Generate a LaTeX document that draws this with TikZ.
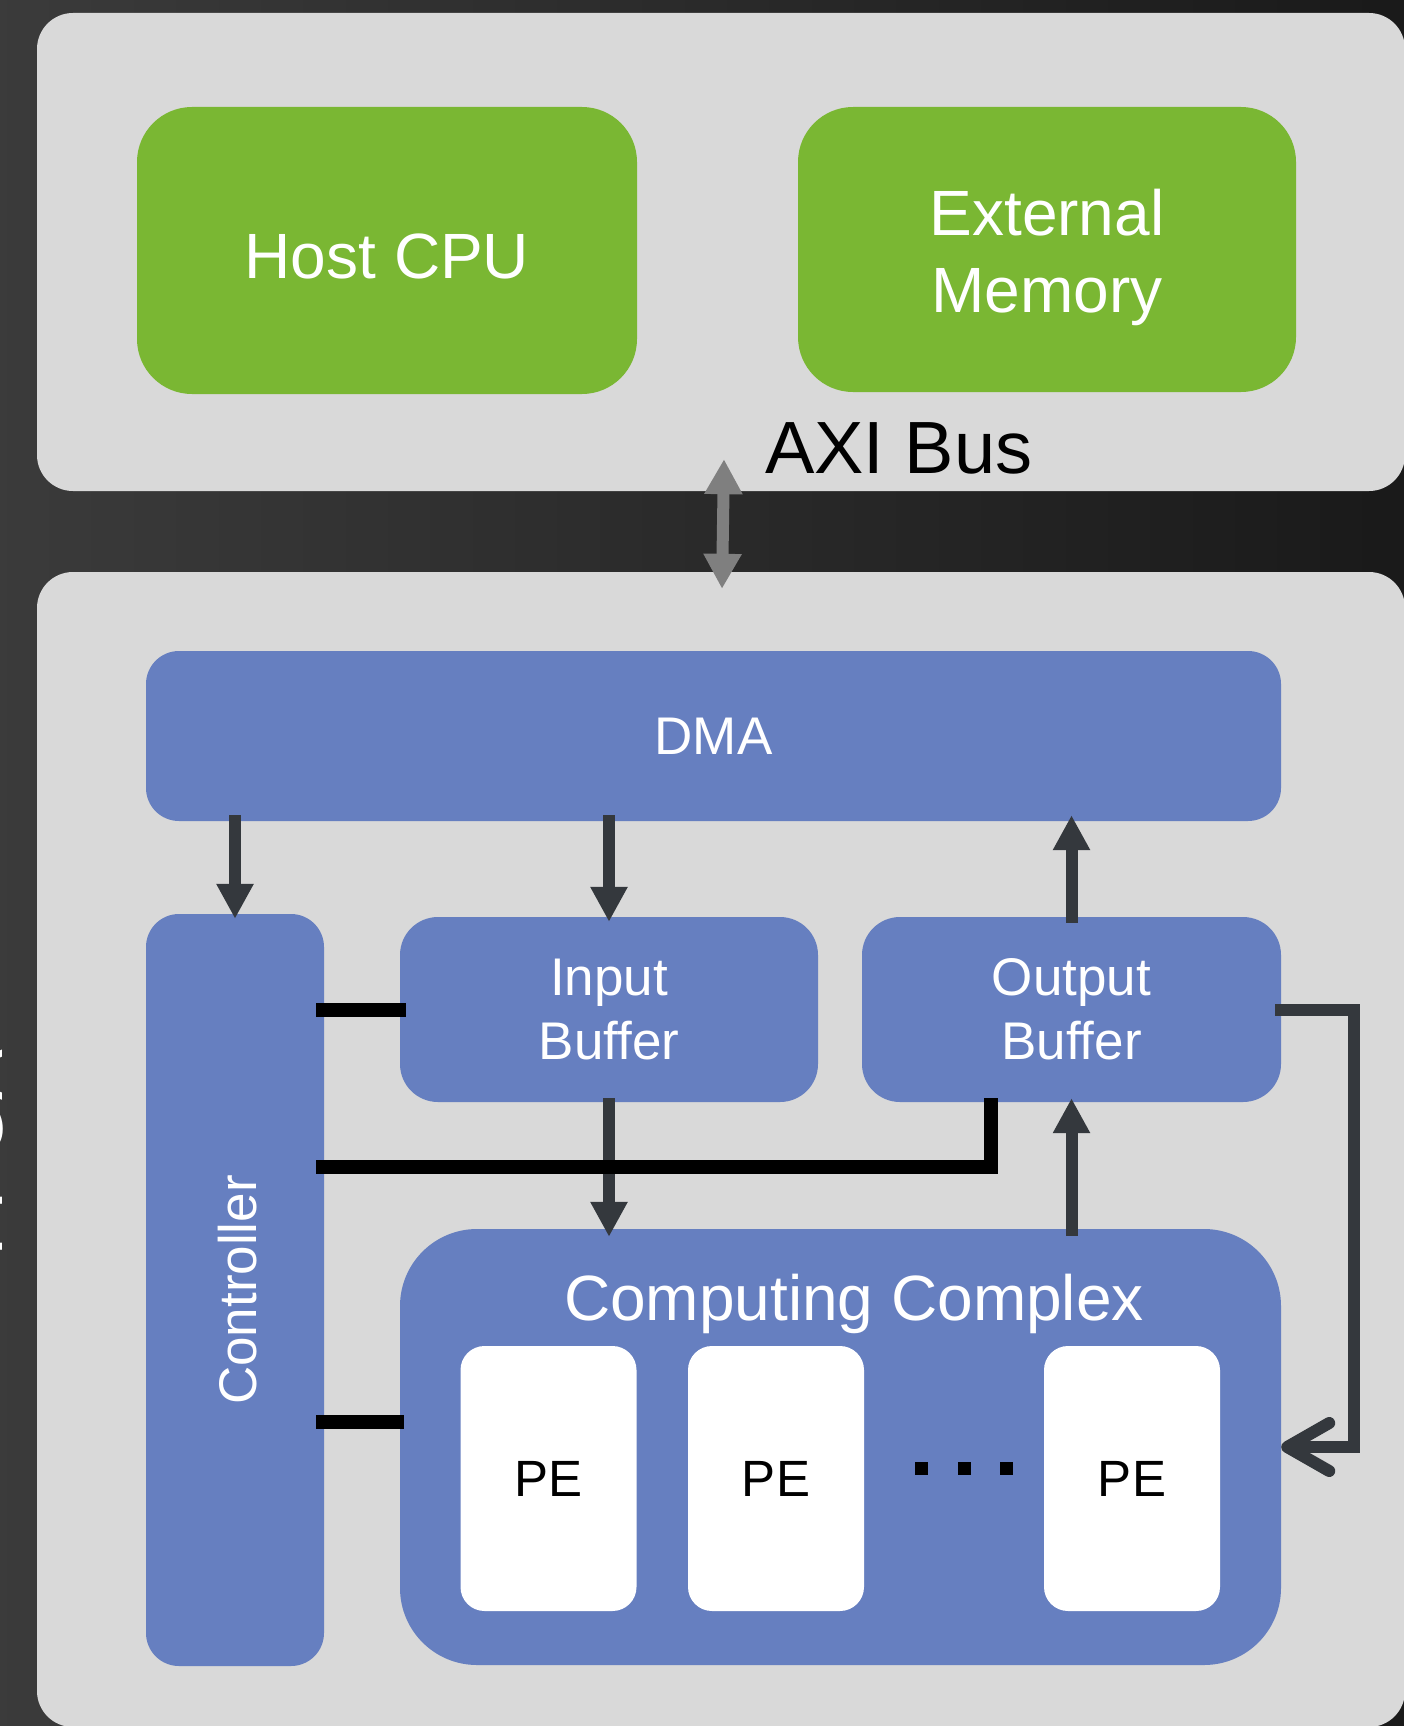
\documentclass[tikz,border=0pt]{standalone}
\usepackage{fontspec}
\setmainfont{Liberation Sans}
\usetikzlibrary{arrows.meta,calc}

\definecolor{panelgray}{HTML}{D9D9D9}
\definecolor{leafgreen}{HTML}{7AB733}
\definecolor{steelblue}{HTML}{667FC0}
\definecolor{slate}{HTML}{34383D}
\definecolor{busgray}{HTML}{7F7F7F}

\begin{document}
\begin{tikzpicture}[x=1pt,y=-1pt,
  panel/.style={fill=panelgray, rounded corners=36pt, inner sep=0pt},
  greenbox/.style={fill=leafgreen, rounded corners=55pt, inner sep=0pt},
  bluebox/.style={fill=steelblue, inner sep=0pt, text=white, align=center},
  pebox/.style={fill=white, rounded corners=24pt, inner sep=0pt,
    minimum width=176pt, minimum height=265pt, font=\fontsize{51}{61}\selectfont},
  whitetext/.style={text=white, inner sep=0pt, align=center},
  darrow/.style={draw=slate, line width=12pt, -{Triangle[length=35pt,width=35pt]}},
  ctrlline/.style={draw=black, line width=14pt},
  dotsq/.style={fill=black, minimum size=13pt, inner sep=0pt},
  bigfont/.style={font=\fontsize{64}{77}\selectfont},
  midfont/.style={font=\fontsize{53}{64}\selectfont},
]
\path[use as bounding box] (0,0) rectangle (1404,1726);
\clip (0,0) rectangle (1404,1726);

% dark backdrop
\shade[left color=black!77, right color=black!90] (0,0) rectangle (1404,1726);

% side title, mostly beyond the left edge
\node[rotate=90, anchor=base west, inner sep=0pt, text=white,
      font=\fontsize{76}{90}\selectfont] (sidetitle) at (2.5,1257) {FPGA};

% the two grey panels
\node[panel, minimum width=1368pt, minimum height=478pt] (host) at (721,252) {};
\node[panel, minimum width=1368pt, minimum height=1155pt] (fpga) at (721,1149.5) {};

% host side
\node[greenbox, minimum width=500pt, minimum height=287pt] (cpu) at (387,250.5) {};
\node[whitetext, bigfont, anchor=base] (cpulabel) at (387,278) {Host CPU};
\node[greenbox, minimum width=498pt, minimum height=285pt] (mem) at (1047,249.5) {};
\node[whitetext, bigfont] (memlabel) at (1047,257) {External\\Memory};
\node[anchor=base west, inner sep=0pt, font=\fontsize{74}{89}\selectfont] (axilabel) at (765,473) {AXI Bus};

% bus link between the panels
\draw[busgray, line width=12pt,
      {Triangle[length=35pt,width=36pt]}-{Triangle[length=35pt,width=36pt]}]
  ($(host.south)+(3,-32)$) -- ($(fpga.north)+(1,17)$);

% accelerator blocks
\node[bluebox, rounded corners=33pt, minimum width=1135pt, minimum height=170pt,
      midfont] (dma) at (713.5,736) {DMA};
\node[bluebox, rounded corners=33pt, minimum width=178pt, minimum height=752pt] (ctrl) at (235,1290) {};
\node[whitetext, midfont, rotate=90, anchor=base] (ctrllabel) at (256,1290) {Controller};
\node[bluebox, rounded corners=38pt, minimum width=418pt, minimum height=185pt,
      midfont] (inbuf) at (609,1009.5) {Input\\Buffer};
\node[bluebox, rounded corners=38pt, minimum width=419pt, minimum height=185pt,
      midfont] (outbuf) at (1071.5,1009.5) {Output\\Buffer};
\node[bluebox, rounded corners=77pt, minimum width=881pt, minimum height=436pt] (cc) at (840.5,1447) {};
\node[whitetext, anchor=base, font=\fontsize{64}{77}\selectfont] (cclabel) at (854,1320) {Computing Complex};

% processing elements
\node[pebox] (pe1) at (548.5,1478.5) {PE};
\node[pebox] (pe2) at (776,1478.5) {PE};
\node[pebox] (pe3) at (1132,1478.5) {PE};
\node[dotsq] (dot1) at (921.5,1468.5) {};
\node[dotsq] (dot2) at (964,1468.5) {};
\node[dotsq] (dot3) at (1006.5,1468.5) {};

% data paths
\draw[darrow] ($(dma.south -| ctrl.north)+(0,-6)$) -- ($(ctrl.north)+(0,5)$);
\draw[darrow] ($(dma.south -| inbuf.north)+(0,-6)$) -- ($(inbuf.north)+(0,5)$);
\draw[darrow] ($(outbuf.north)+(0,6)$) -- ($(dma.south -| outbuf.north)+(0,-6)$);
\draw[darrow] ($(inbuf.south)+(0,-4)$) -- ($(cc.north -| inbuf.south)+(0,8)$);
\draw[darrow] ($(cc.north -| outbuf.south)+(0,7)$) -- ($(outbuf.south)+(0,-4)$);

% control lines
\draw[ctrlline] ($(ctrl.east |- inbuf.west)+(-8,0)$) -- ($(inbuf.west)+(6,0)$);
\draw[ctrlline] ($(ctrl.east)+(-8,-123)$) -| ($(outbuf.south west)+(129,-4)$);
\draw[ctrlline] ($(ctrl.east |- cc.west)+(-8,-25)$) -- ($(cc.west)+(4,-25)$);

% feedback from the output buffer
\draw[slate, line width=12pt, -{Straight Barb[length=42pt,width=48pt,round]}]
  ($(outbuf.east)+(-6,0)$) -- ++(79,0) |- (cc.east);
\end{tikzpicture}
\end{document}
